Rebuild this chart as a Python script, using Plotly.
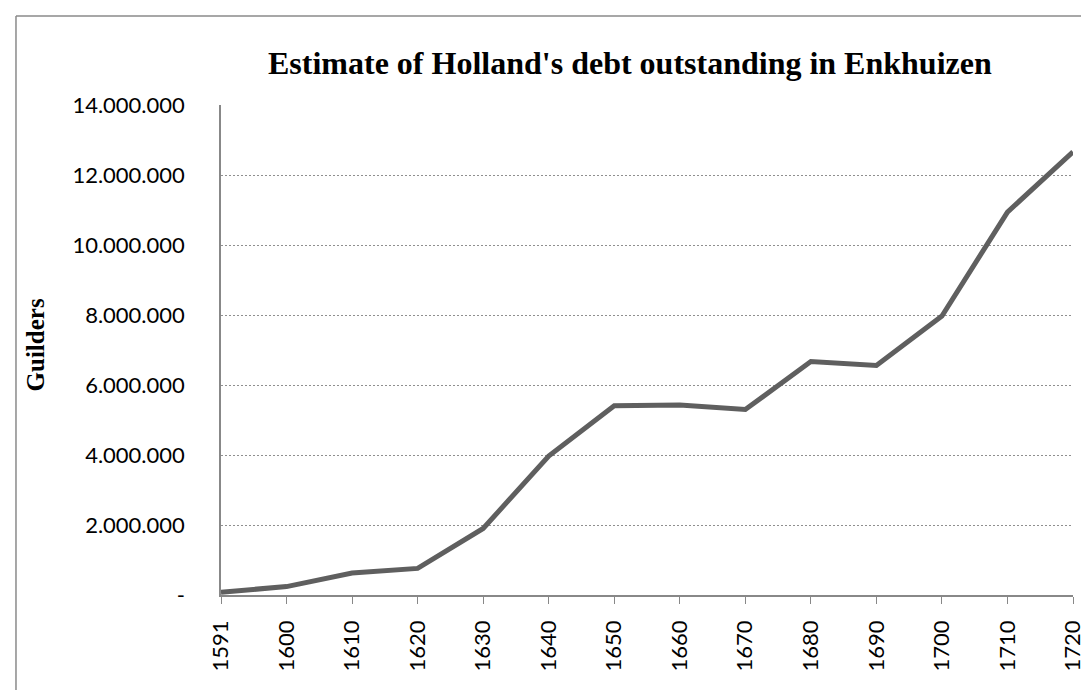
import plotly.graph_objects as go

years = ["1591", "1600", "1610", "1620", "1630", "1640", "1650", "1660",
         "1670", "1680", "1690", "1700", "1710", "1720"]
debt = [80000, 240000, 630000, 760000, 1900000, 3970000, 5410000, 5430000,
        5300000, 6670000, 6560000, 7970000, 10940000, 12660000]
y_tick_vals = [0, 2000000, 4000000, 6000000, 8000000, 10000000, 12000000, 14000000]
y_tick_text = ["-", "2.000.000", "4.000.000", "6.000.000", "8.000.000",
               "10.000.000", "12.000.000", "14.000.000"]
title_text = "Estimate of Holland's debt outstanding in Enkhuizen"
y_title = "Guilders"

W, H = 1089, 690
L, R, T, B = 213, 1067, 97, 587
pw, ph = R - L, B - T

def px(x):
    return (x - L) / pw

def py(y):
    return (B - y) / ph

fig = go.Figure()
fig.add_trace(go.Scatter(
    x=list(range(len(years))), y=debt, mode="lines",
    line=dict(color="#5f5f5f", width=5),
    hoverinfo="skip", showlegend=False, cliponaxis=False,
))

fig.update_layout(
    width=W, height=H,
    margin=dict(l=L, r=W - R, t=T, b=H - B, pad=0),
    paper_bgcolor="white", plot_bgcolor="white",
    showlegend=False,
    xaxis=dict(
        range=[0, len(years) - 1],
        tickmode="array", tickvals=list(range(len(years))), ticktext=years,
        tickangle=-90,
        ticks="outside", ticklen=7, tickwidth=1, tickcolor="#888888",
        showline=True, linecolor="#888888", linewidth=1.5,
        showgrid=False, zeroline=False,
        tickfont=dict(family="Lato", size=22, color="black"),
        ticklabelstandoff=8,
    ),
    yaxis=dict(
        range=[0, 14000000],
        tickmode="array", tickvals=y_tick_vals, ticktext=y_tick_text,
        ticks="",
        showline=True, linecolor="#888888", linewidth=1.5,
        showgrid=True, gridcolor="#8f8f8f", gridwidth=1, griddash="2px,2px",
        zeroline=False,
        tickfont=dict(family="Lato", size=22, color="black"),
        ticklabelstandoff=30,
    ),
    annotations=[
        dict(text="<b>" + title_text + "</b>", xref="paper", yref="paper",
             x=px(623), y=py(55), xanchor="center", yanchor="middle",
             showarrow=False,
             font=dict(family="Liberation Serif", size=32, color="black")),
        dict(text="<b>" + y_title + "</b>", xref="paper", yref="paper",
             x=px(27), y=py(337), xanchor="center", yanchor="middle",
             textangle=-90, showarrow=False,
             font=dict(family="Liberation Serif", size=25, color="black")),
    ],
    shapes=[
        dict(type="line", xref="paper", yref="paper",
             x0=px(7.5), x1=px(7.5), y0=py(8), y1=py(700),
             line=dict(color="#8a8a8a", width=1.5)),
        dict(type="line", xref="paper", yref="paper",
             x0=px(7.5), x1=px(1100), y0=py(8), y1=py(8),
             line=dict(color="#8a8a8a", width=1.5)),
    ],
)

fig.write_html("out.html")
